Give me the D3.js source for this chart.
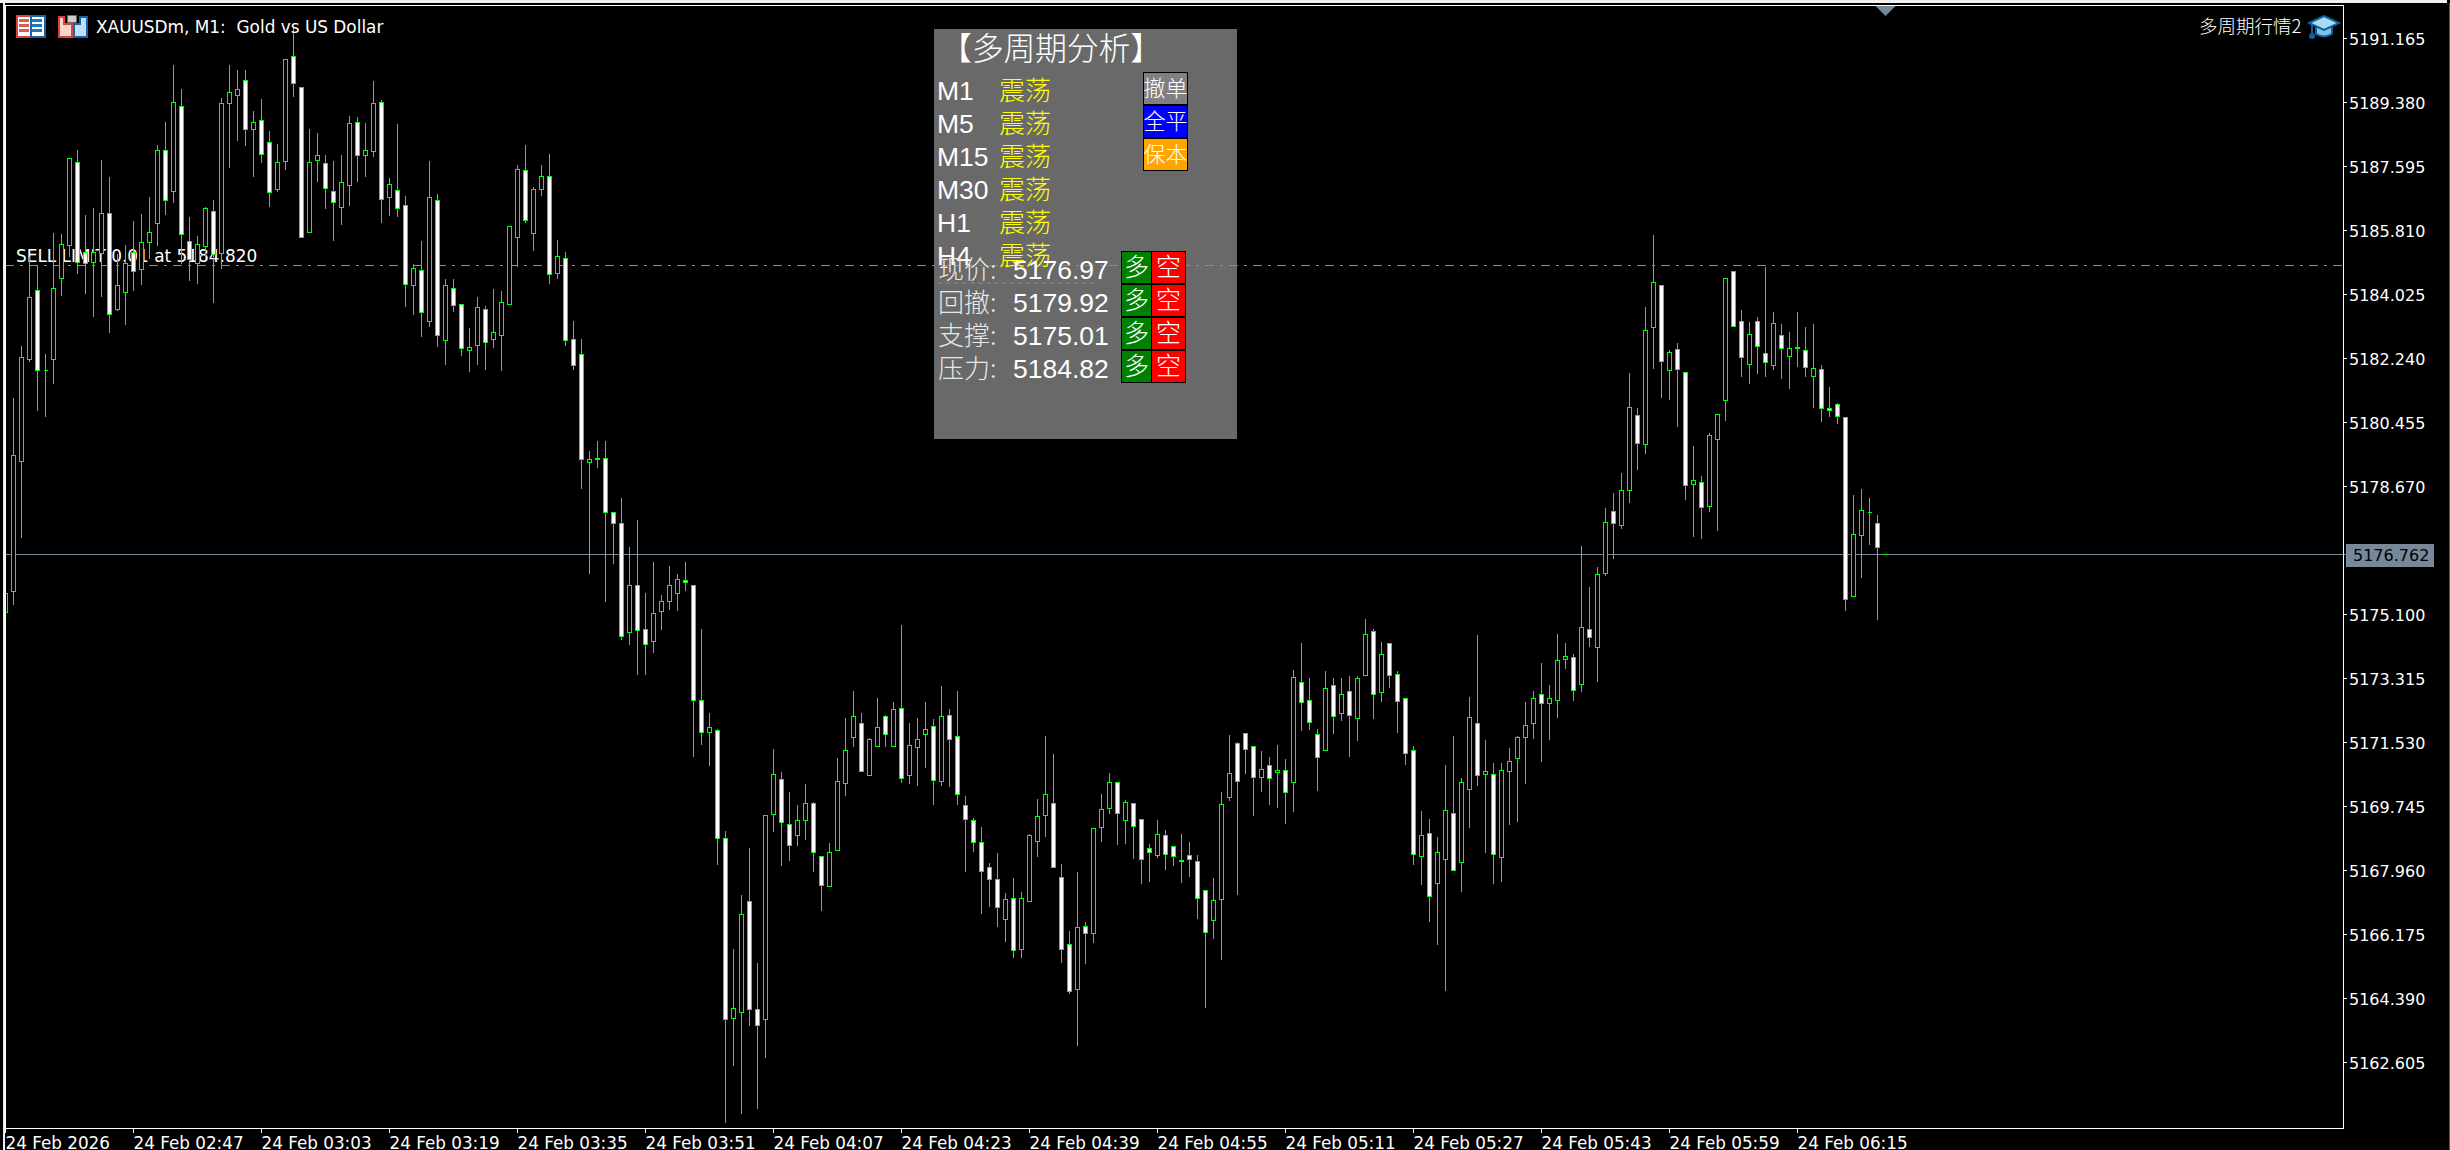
<!DOCTYPE html>
<html>
<head>
<meta charset="utf-8">
<title>XAUUSDm M1</title>
<script src="https://cdnjs.cloudflare.com/ajax/libs/d3/7.8.5/d3.min.js"></script>
<style>
    html, body { margin: 0; padding: 0; background: #000; overflow: hidden; }
    svg { display: block; }
    .sans { font-family: "DejaVu Sans", sans-serif; }
    .cjk { font-family: "Noto Sans CJK SC", sans-serif; font-weight: 300; }
    .latin { font-family: "Liberation Sans", Arial, sans-serif; }
</style>
</head>
<body>
<div id="chart"></div>
<script>
//Candle data, one value per minute bar
var opens = [
    5175.15,5175.73,5179.36,5182.22,5184.14,5181.91,5182.22,5184.48,5185.38,5187.71,
    5185.19,5184.92,5185.18,5186.29,5183.60,5184.07,5185.20,5184.72,5185.48,5186.01,
    5188.05,5186.89,5189.27,5185.50,5184.89,5185.36,5186.33,5185.17,5189.36,5189.57,
    5190.00,5188.63,5188.88,5188.27,5186.96,5187.73,5190.67,5189.80,5185.75,5187.77,
    5187.68,5186.90,5186.45,5187.06,5188.83,5187.91,5188.01,5189.39,5186.72,5186.93,
    5186.51,5184.27,5184.70,5183.26,5186.65,5182.75,5184.20,5183.75,5182.46,5182.61,
    5183.61,5182.77,5182.89,5183.75,5185.62,5187.49,5185.73,5186.96,5187.32,5184.61,
    5185.03,5182.77,5182.36,5179.34,5179.45,5179.45,5177.95,5177.64,5174.60,5175.91,
    5174.68,5174.34,5175.19,5175.45,5175.68,5176.06,5175.91,5172.69,5171.81,5171.86,
    5168.85,5163.84,5164.01,5167.09,5164.08,5163.80,5169.52,5170.50,5169.24,5168.93,
    5169.35,5169.83,5168.35,5167.50,5168.53,5170.40,5171.66,5172.07,5170.60,5171.42,
    5172.25,5171.42,5172.48,5170.60,5171.39,5171.75,5171.98,5170.43,5172.28,5171.69,
    5169.77,5169.35,5168.74,5168.04,5167.71,5166.59,5167.17,5165.77,5167.09,5168.77,
    5169.49,5169.83,5167.76,5165.89,5164.64,5166.40,5166.20,5169.16,5169.69,5170.41,
    5169.35,5169.83,5169.38,5168.57,5168.37,5168.93,5168.63,5168.24,5168.37,5168.21,
    5167.40,5166.57,5167.15,5169.99,5171.50,5171.78,5171.42,5170.55,5170.89,5170.68,
    5170.74,5170.41,5173.20,5172.70,5171.75,5171.30,5173.12,5172.34,5172.96,5172.19,
    5173.40,5174.63,5172.92,5174.29,5173.42,5172.76,5171.32,5168.35,5168.99,5167.59,
    5168.27,5169.55,5168.18,5170.22,5172.05,5170.63,5170.64,5168.32,5170.72,5171.09,
    5171.66,5172.05,5172.87,5172.61,5172.70,5173.84,5173.90,5173.14,5174.68,5174.18,
    5176.24,5177.96,5177.57,5178.56,5180.65,5179.84,5183.11,5184.28,5181.91,5182.49,
    5181.85,5178.73,5178.78,5178.11,5179.98,5181.07,5184.67,5183.28,5182.08,5183.28,
    5182.38,5182.05,5182.89,5182.30,5182.55,5182.47,5181.74,5181.94,5180.85,5180.96,
    5180.60,5175.60,5177.30,5177.95,5177.64,5176.76
];
var highs = [
    5175.92,5181.14,5182.59,5185.08,5184.85,5182.38,5185.76,5185.73,5187.83,5188.08,
    5186.27,5186.46,5187.78,5187.33,5185.18,5185.43,5186.08,5186.29,5186.77,5188.22,
    5188.86,5190.45,5189.76,5186.21,5185.68,5186.49,5186.68,5189.53,5190.43,5190.31,
    5190.31,5189.17,5189.48,5188.59,5188.24,5190.62,5191.50,5189.80,5188.66,5188.55,
    5187.94,5187.75,5187.92,5189.03,5189.00,5188.82,5189.98,5189.45,5187.28,5188.80,
    5186.80,5184.89,5185.52,5187.75,5186.83,5184.48,5184.46,5183.75,5183.10,5183.98,
    5183.73,5184.20,5184.15,5185.93,5187.64,5188.22,5187.03,5187.64,5187.96,5185.57,
    5185.23,5183.31,5182.80,5179.68,5179.94,5179.94,5177.95,5178.35,5177.01,5177.75,
    5175.72,5176.59,5175.67,5176.48,5176.25,5176.59,5175.91,5174.72,5172.37,5171.92,
    5169.08,5165.79,5167.30,5168.61,5165.40,5169.49,5171.37,5170.72,5170.17,5169.79,
    5170.39,5169.88,5168.35,5168.75,5171.12,5172.23,5172.99,5172.37,5171.67,5172.79,
    5172.32,5172.67,5174.81,5172.09,5172.23,5172.68,5172.21,5173.13,5172.47,5172.99,
    5170.06,5169.45,5169.20,5168.19,5168.47,5167.36,5167.77,5167.38,5169.00,5169.98,
    5171.72,5171.23,5168.15,5166.29,5167.92,5166.55,5169.13,5170.12,5170.70,5170.45,
    5169.95,5169.83,5169.38,5168.72,5169.38,5169.10,5168.63,5169.00,5168.78,5168.40,
    5167.40,5167.77,5170.15,5171.76,5171.57,5171.81,5171.42,5171.31,5171.14,5171.48,
    5171.07,5173.57,5174.33,5173.33,5171.93,5173.54,5173.33,5173.35,5173.41,5173.41,
    5175.00,5174.71,5174.35,5174.29,5173.54,5172.76,5171.46,5169.63,5169.42,5168.91,
    5170.92,5171.73,5170.54,5172.82,5174.55,5171.62,5170.98,5170.98,5171.40,5171.72,
    5172.68,5172.99,5173.76,5173.16,5174.57,5174.33,5174.02,5177.03,5175.89,5176.45,
    5178.09,5178.50,5179.07,5181.85,5180.88,5183.70,5185.71,5184.28,5182.49,5182.69,
    5181.89,5179.82,5178.98,5180.19,5180.68,5184.48,5184.67,5183.61,5183.26,5183.42,
    5184.81,5183.55,5183.22,5182.98,5183.54,5183.12,5183.23,5182.06,5181.46,5181.02,
    5180.60,5178.46,5178.62,5178.37,5177.89,5176.76
];
var lows = [
    5175.00,5175.39,5177.24,5182.17,5180.80,5180.61,5181.53,5184.01,5185.08,5184.60,
    5184.04,5183.42,5183.98,5182.96,5183.59,5183.20,5184.13,5184.29,5185.04,5185.38,
    5186.27,5186.60,5184.89,5184.41,5184.32,5184.99,5183.79,5184.75,5187.56,5188.31,
    5188.19,5187.31,5187.70,5186.47,5186.89,5187.52,5189.54,5185.62,5185.75,5187.17,
    5186.41,5185.52,5185.99,5186.50,5187.17,5187.31,5187.87,5186.03,5186.24,5186.21,
    5183.70,5183.48,5182.85,5183.12,5182.57,5182.06,5183.54,5182.31,5181.87,5182.08,
    5181.92,5182.55,5181.90,5183.75,5184.81,5186.03,5185.25,5186.78,5184.34,5184.48,
    5182.59,5181.92,5178.61,5176.23,5179.21,5175.45,5176.51,5174.39,5174.25,5173.44,
    5173.42,5174.03,5174.67,5175.23,5175.21,5175.78,5171.15,5171.47,5170.90,5168.13,
    5160.92,5162.53,5161.19,5163.64,5161.31,5162.75,5169.04,5168.09,5168.23,5168.65,
    5168.82,5167.93,5166.85,5167.50,5168.53,5170.04,5171.43,5170.72,5170.60,5171.42,
    5171.41,5171.42,5170.42,5170.39,5170.34,5170.84,5169.79,5170.34,5170.29,5169.79,
    5167.94,5168.49,5166.77,5166.96,5166.41,5165.99,5165.54,5165.52,5167.09,5168.36,
    5168.91,5168.04,5165.40,5164.52,5163.09,5165.38,5165.94,5168.78,5169.54,5168.68,
    5168.70,5168.29,5167.60,5167.66,5168.31,5167.98,5168.11,5167.63,5167.80,5166.61,
    5164.15,5166.06,5165.49,5169.90,5167.28,5170.66,5169.50,5170.17,5169.81,5169.73,
    5169.28,5169.61,5171.87,5171.90,5170.20,5171.30,5171.79,5172.15,5171.13,5171.59,
    5173.40,5172.19,5172.68,5173.07,5171.82,5170.93,5168.14,5167.57,5166.53,5165.90,
    5164.60,5167.96,5167.38,5169.17,5170.34,5168.46,5167.61,5167.66,5169.24,5169.33,
    5170.40,5171.64,5170.99,5171.62,5172.24,5173.58,5172.71,5172.94,5174.22,5173.24,
    5176.20,5176.65,5177.49,5178.21,5179.14,5179.58,5181.95,5181.14,5181.11,5180.35,
    5178.30,5177.27,5177.21,5177.96,5177.45,5180.52,5183.14,5181.75,5181.53,5181.83,
    5181.75,5181.94,5181.67,5181.41,5182.03,5181.75,5180.88,5180.49,5180.61,5180.44,
    5175.22,5175.60,5176.14,5177.04,5174.97,5176.76
];
var closes = [
    5175.69,5179.54,5182.27,5183.95,5181.91,5181.91,5184.20,5185.42,5187.82,5184.92,
    5184.89,5185.20,5186.29,5183.47,5184.28,5184.89,5184.66,5185.48,5185.76,5188.05,
    5186.65,5189.39,5185.70,5185.01,5185.42,5186.43,5185.13,5189.36,5189.66,5189.75,
    5188.63,5188.83,5187.94,5186.87,5187.71,5190.59,5189.92,5185.62,5187.71,5187.90,
    5186.99,5186.60,5187.15,5188.80,5187.91,5188.05,5189.36,5186.68,5187.10,5186.43,
    5184.31,5184.75,5183.53,5186.74,5182.89,5184.28,5183.72,5182.52,5182.55,5183.67,
    5182.69,5182.97,5183.81,5185.93,5187.52,5186.09,5186.96,5187.32,5184.59,5185.09,
    5182.75,5182.05,5179.43,5179.43,5179.43,5177.95,5177.64,5174.49,5175.91,5174.65,
    5174.26,5175.13,5175.45,5175.91,5176.08,5175.98,5172.70,5171.81,5171.95,5168.85,
    5163.80,5164.11,5166.73,5164.08,5163.63,5169.49,5170.64,5169.30,5168.66,5169.35,
    5169.83,5168.46,5167.53,5168.46,5170.44,5171.30,5172.25,5170.72,5171.62,5171.95,
    5171.75,5172.45,5170.53,5171.45,5171.62,5171.89,5170.47,5172.25,5171.62,5170.08,
    5169.38,5168.74,5167.93,5167.71,5166.93,5167.15,5165.72,5167.17,5168.93,5169.46,
    5170.08,5168.04,5165.75,5164.58,5166.37,5166.20,5169.13,5169.66,5170.41,5169.55,
    5169.85,5169.19,5168.27,5168.46,5168.96,5168.40,5168.35,5168.21,5168.27,5167.17,
    5166.22,5167.12,5169.79,5170.66,5170.44,5171.33,5170.55,5170.77,5170.52,5170.74,
    5170.13,5173.34,5172.64,5172.09,5171.11,5173.03,5172.25,5172.87,5172.28,5173.32,
    5174.54,5172.87,5173.98,5173.40,5172.67,5171.22,5168.40,5168.93,5167.23,5168.46,
    5169.63,5167.96,5170.41,5172.22,5170.61,5170.72,5168.40,5170.76,5171.00,5171.66,
    5172.01,5172.76,5172.61,5172.76,5173.82,5173.94,5172.98,5174.74,5174.45,5176.22,
    5177.67,5177.64,5178.56,5180.88,5179.87,5183.02,5184.36,5182.16,5182.41,5181.94,
    5178.70,5178.84,5178.09,5180.10,5180.68,5184.48,5183.14,5182.27,5182.91,5182.58,
    5182.13,5183.22,5182.52,5182.52,5182.52,5181.99,5181.96,5180.85,5180.79,5180.63,
    5175.52,5177.33,5178.00,5177.95,5176.97,5176.76
];

var priceTicks = [5191.165, 5189.38, 5187.595, 5185.81, 5184.025, 5182.24, 5180.455, 5178.67,
    5175.1, 5173.315, 5171.53, 5169.745, 5167.96, 5166.175, 5164.39, 5162.605];
var timeTicks = [0, 16, 32, 48, 64, 80, 96, 112, 128, 144, 160, 176, 192, 208, 224];
var timeLabels = ["24 Feb 2026", "24 Feb 02:47", "24 Feb 03:03", "24 Feb 03:19", "24 Feb 03:35",
    "24 Feb 03:51", "24 Feb 04:07", "24 Feb 04:23", "24 Feb 04:39", "24 Feb 04:55", "24 Feb 05:11",
    "24 Feb 05:27", "24 Feb 05:43", "24 Feb 05:59", "24 Feb 06:15"];

var bidPrice = 5176.762;
var limitPrice = 5184.82;

var periods = ["M1", "M5", "M15", "M30", "H1", "H4"];
var trends = ["震荡", "震荡", "震荡", "震荡", "震荡", "震荡"];
var levelNames = ["现价:", "回撤:", "支撑:", "压力:"];
var levelValues = ["5176.97", "5179.92", "5175.01", "5184.82"];
var sideButtons = ["撤单", "全平", "保本"];
var sideColors = ["#808080", "#0000ff", "#ffa500"];

var width = 2450, height = 1150;
var plot = { left: 5, top: 5, right: 2343, bottom: 1128 };
var green = "#00ff00";
var slate = "#778899";

var xScale = d3.scaleLinear().domain([0, 235]).range([5, 5 + 8 * 235]);
var yScale = d3.scaleLinear().domain([5191.165, 5162.605]).range([38, 38 + 64 * 16]);

// snap to the pixel grid, the terminal draws without antialias
function px(v) { return Math.round(v) + 0.5; }

var svg = d3.select("#chart").append("svg")
    .attr("width", width)
    .attr("height", height)
    .style("background", "#000");

svg.append("clipPath").attr("id", "plotClip").append("rect")
    .attr("x", plot.left + 1).attr("y", plot.top + 1)
    .attr("width", plot.right - plot.left - 1).attr("height", plot.bottom - plot.top - 1);

// window chrome
svg.append("rect").attr("x", 0).attr("y", 0).attr("width", 2447).attr("height", 3).attr("fill", "#f0f0f0");
svg.append("rect").attr("x", 3).attr("y", 3).attr("width", 2).attr("height", height).attr("fill", "#f0f0f0");
svg.append("rect").attr("x", 2449).attr("y", 3).attr("width", 1).attr("height", height).attr("fill", "#555");

// text and lines that sit behind the candles
var back = svg.append("g").attr("clip-path", "url(#plotClip)");

back.append("line")
    .attr("x1", plot.left).attr("x2", plot.right)
    .attr("y1", px(yScale(bidPrice))).attr("y2", px(yScale(bidPrice)))
    .attr("stroke", slate).attr("shape-rendering", "crispEdges");

back.append("text")
    .attr("class", "sans")
    .attr("x", 16).attr("y", 262)
    .attr("fill", "#fff").attr("font-size", 16.9)
    .text("SELL LIMIT 0.01 at 5184.820");

// panel background, the pending order line runs over it
back.append("rect")
    .attr("x", 934).attr("y", 29).attr("width", 303).attr("height", 410)
    .attr("fill", "#696969");

back.append("line")
    .attr("x1", 5.3).attr("x2", plot.right)
    .attr("y1", px(yScale(limitPrice))).attr("y2", px(yScale(limitPrice)))
    .attr("stroke", "#32cd32")
    .attr("stroke-dasharray", "9,6,3,6")
    .attr("shape-rendering", "crispEdges");

// candles
var bars = d3.range(opens.length).map(function (i) {
    return { i: i, open: opens[i], high: highs[i], low: lows[i], close: closes[i] };
});

var candles = svg.append("g").attr("clip-path", "url(#plotClip)")
    .attr("shape-rendering", "crispEdges")
    .selectAll("g")
    .data(bars)
    .join("g");

candles.append("line")
    .attr("x1", function (d) { return xScale(d.i) + 0.5; })
    .attr("x2", function (d) { return xScale(d.i) + 0.5; })
    .attr("y1", function (d) { return px(yScale(d.high)); })
    .attr("y2", function (d) { return px(yScale(d.low)) + 0.5; })
    .attr("stroke", green);

candles.append("path")
    .attr("d", function (d) {
        var x = xScale(d.i) + 0.5;
        var top = px(yScale(Math.max(d.open, d.close)));
        var bottom = px(yScale(Math.min(d.open, d.close)));
        return "M" + (x - 2) + "," + top + "H" + (x + 2) + "V" + bottom + "H" + (x - 2) + "Z";
    })
    .attr("fill", function (d) { return d.close < d.open ? "#fff" : "#000"; })
    .attr("stroke", green);

// plot frame
svg.append("path")
    .attr("d", "M" + (plot.left + 0.5) + "," + (plot.bottom + 0.5) + "V" + (plot.top + 0.5) +
        "H" + (plot.right + 0.5) + "V" + (plot.bottom + 0.5) + "Z")
    .attr("fill", "none").attr("stroke", "#fff")
    .attr("shape-rendering", "crispEdges");

// axes
var yAxis = d3.axisRight(yScale)
    .tickValues(priceTicks)
    .tickFormat(d3.format(".3f"))
    .tickSize(4)
    .tickPadding(2);

var gy = svg.append("g")
    .attr("class", "sans")
    .attr("transform", "translate(" + plot.right + ",0)")
    .style("color", "#fff")
    .call(yAxis);
gy.select(".domain").remove();
gy.selectAll("text").attr("font-size", 16).attr("font-family", "DejaVu Sans").attr("dy", "0.38em");
gy.selectAll("line").attr("shape-rendering", "crispEdges");

var xAxis = d3.axisBottom(xScale)
    .tickValues(timeTicks)
    .tickFormat(function (d, i) { return timeLabels[i]; })
    .tickSize(5)
    .tickPadding(4);

var gx = svg.append("g")
    .attr("transform", "translate(0," + plot.bottom + ")")
    .style("color", "#fff")
    .call(xAxis);
gx.select(".domain").remove();
gx.selectAll("text")
    .attr("font-size", 16.8).attr("font-family", "DejaVu Sans")
    .attr("text-anchor", "start");
gx.selectAll("line").attr("shape-rendering", "crispEdges");

// current price label on the axis
var bidY = px(yScale(bidPrice));
svg.append("line")
    .attr("x1", plot.right + 1).attr("x2", 2346)
    .attr("y1", bidY).attr("y2", bidY)
    .attr("stroke", slate).attr("shape-rendering", "crispEdges");
svg.append("rect")
    .attr("x", 2346).attr("y", 544).attr("width", 88).attr("height", 23)
    .attr("fill", slate);
svg.append("text")
    .attr("class", "sans")
    .attr("x", 2353).attr("y", bidY + 6)
    .attr("fill", "#000").attr("font-size", 16)
    .text(d3.format(".3f")(bidPrice));

// last bar marker on top of the plot
svg.append("path")
    .attr("d", d3.line()([[xScale(235) - 9.5, 6], [xScale(235) + 10.5, 6], [xScale(235) + 0.5, 16]]) + "Z")
    .attr("fill", slate);

// chart title and icons
svg.append("text")
    .attr("class", "sans")
    .attr("x", 96).attr("y", 33)
    .attr("fill", "#fff").attr("font-size", 16.9)
    .style("white-space", "pre")
    .text("XAUUSDm, M1:  Gold vs US Dollar");

var icon1 = svg.append("g").attr("transform", "translate(16,15)").attr("shape-rendering", "crispEdges");
icon1.append("rect").attr("x", 0.5).attr("y", 0.5).attr("width", 14).attr("height", 21).attr("fill", "#fff").attr("stroke", "#d8453c").attr("stroke-width", 2);
icon1.append("rect").attr("x", 14.5).attr("y", 0.5).attr("width", 14).attr("height", 21).attr("fill", "#fff").attr("stroke", "#1565a8").attr("stroke-width", 2);
[4, 9, 14].forEach(function (y) {
    icon1.append("rect").attr("x", 3).attr("y", y).attr("width", 10).attr("height", 3).attr("fill", "#e05a50");
    icon1.append("rect").attr("x", 16).attr("y", y).attr("width", 10).attr("height", 3).attr("fill", "#1f78c0");
});

var icon2 = svg.append("g").attr("transform", "translate(58,15)").attr("shape-rendering", "crispEdges");
icon2.append("path").attr("d", "M0.5,1.5H5.5V8.5H13.5V21.5H0.5Z").attr("fill", "#fdd4cc").attr("stroke", "#d8453c").attr("stroke-width", 2);
icon2.append("path").attr("d", "M15.5,8.5H21.5V1.5H28.5V21.5H15.5Z").attr("fill", "#bfe0f8").attr("stroke", "#1565a8").attr("stroke-width", 2);
icon2.append("rect").attr("x", 9).attr("y", 0).attr("width", 9).attr("height", 7).attr("fill", "#ccc").attr("stroke", "#666");

svg.append("text")
    .attr("class", "cjk")
    .attr("x", 2199).attr("y", 33)
    .attr("fill", "#fff").attr("font-size", 18.5)
    .text("多周期行情2");

var cap = svg.append("g").attr("transform", "translate(2309,15)");
cap.append("path").attr("d", "M7,12V19Q15,24 23,19V12Z").attr("fill", "#7fbfe8").attr("stroke", "#0f5fa0").attr("stroke-width", 2);
cap.append("path").attr("d", "M0,8L15,1L30,8L15,15Z").attr("fill", "#a8dcf5").attr("stroke", "#0f5fa0").attr("stroke-width", 2);
cap.append("line").attr("x1", 3).attr("x2", 3).attr("y1", 9).attr("y2", 20).attr("stroke", "#0f5fa0").attr("stroke-width", 2);
cap.append("circle").attr("cx", 3).attr("cy", 21).attr("r", 3).attr("fill", "#0f5fa0");

// analysis panel
var panel = svg.append("g");

// title glyphs placed one by one, the browser squeezes the brackets otherwise
var titleChars = "【多周期分析】".split("");
titleChars.forEach(function (c, i) {
    panel.append("text")
        .attr("class", "cjk")
        .attr("x", 940 + i * 31.7).attr("y", 60)
        .attr("fill", "#fff").attr("font-size", 32)
        .text(c);
});

periods.forEach(function (p, i) {
    var base = 100 + i * 33;
    panel.append("text").attr("class", "latin")
        .attr("x", 937).attr("y", base)
        .attr("fill", "#fff").attr("font-size", 26.5)
        .text(p);
    panel.append("text").attr("class", "cjk")
        .attr("x", 999).attr("y", base)
        .attr("fill", "#ffff00").attr("font-size", 26)
        .text(trends[i]);
});

panel.append("line")
    .attr("x1", 938).attr("x2", 1097).attr("y1", 283).attr("y2", 283)
    .attr("stroke", "#808080").attr("stroke-width", 1.5).attr("stroke-dasharray", "5,3");

levelNames.forEach(function (name, i) {
    var base = 279 + i * 33;
    panel.append("text").attr("class", "cjk")
        .attr("x", 938).attr("y", base)
        .attr("fill", "#e8e8e8").attr("font-size", 26)
        .text(name);
    panel.append("text").attr("class", "latin")
        .attr("x", 1013).attr("y", base)
        .attr("fill", "#fff").attr("font-size", 26.5)
        .text(levelValues[i]);
});

function button(x, y, w, h, fill, label, size) {
    panel.append("rect")
        .attr("x", x + 0.5).attr("y", y + 0.5).attr("width", w).attr("height", h)
        .attr("fill", fill).attr("stroke", "#000")
        .attr("shape-rendering", "crispEdges");
    panel.append("text").attr("class", "cjk")
        .attr("x", x + w / 2 + 0.5).attr("y", y + h / 2 + size * 0.37)
        .attr("text-anchor", "middle")
        .attr("fill", "#fff").attr("font-size", size)
        .text(label);
}

sideButtons.forEach(function (label, i) {
    button(1143, 72 + i * 33, 44, 32, sideColors[i], label, 22);
});

levelNames.forEach(function (name, i) {
    button(1121, 251 + i * 33, 30, 32, "#008000", "多", 25);
    button(1151, 251 + i * 33, 34, 32, "#ff0000", "空", 25);
});
</script>
</body>
</html>
